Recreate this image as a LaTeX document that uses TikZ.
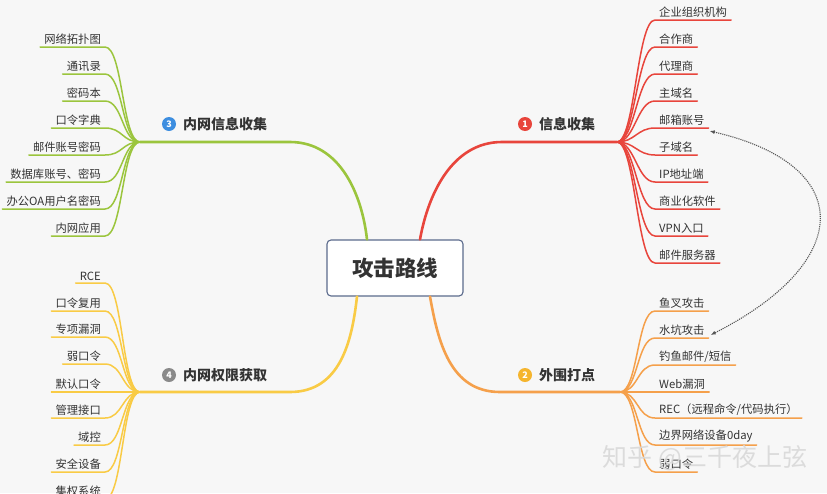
\documentclass[tikz,border=0pt]{standalone}
\usepackage{fontspec}
\setmainfont{Noto Sans CJK SC}
\usetikzlibrary{arrows.meta,positioning,calc}
\definecolor{Paper}{HTML}{F7F7F7}
\definecolor{Ink}{HTML}{333333}
\definecolor{RootEdge}{HTML}{5B6B8C}
\definecolor{RedLine}{HTML}{E8453C}
\definecolor{OrangeLine}{HTML}{F5A04B}
\definecolor{GreenLine}{HTML}{9BC53D}
\definecolor{YellowLine}{HTML}{F9CB45}
\definecolor{BadgeRed}{HTML}{E8453C}
\definecolor{BadgeOrange}{HTML}{F5B52E}
\definecolor{BadgeBlue}{HTML}{3D8EE0}
\definecolor{BadgeGray}{HTML}{8A8A8A}
\definecolor{LinkGray}{HTML}{555555}
\definecolor{Ghost}{HTML}{D9D9D9}
\tikzset{
  every node/.append style={text=Ink},
  leaf/.style={inner xsep=4pt, inner ysep=2.5pt, font=\fontsize{11.3}{13}\selectfont},
  leafr/.style={leaf, anchor=south west},
  leafl/.style={leaf, anchor=south east},
  twig/.style={line width=1.5pt, line cap=round},
  trunk/.style={line width=2.6pt, line cap=round},
  badge/.style={circle, fill=#1, minimum size=14pt, inner sep=0pt,
                text=white, font=\bfseries\fontsize{9}{9}\selectfont},
  topic/.style={anchor=west, inner sep=2pt, font=\bfseries\fontsize{14}{16}\selectfont},
  rootbox/.style={draw=RootEdge, line width=1.1pt, rounded corners=4pt, fill=white,
                  minimum width=136pt, minimum height=56pt,
                  font=\bfseries\fontsize{21.5}{24}\selectfont},
  linkarrow/.style={{Latex[length=1.8mm,width=1.4mm]}-{Latex[length=1.8mm,width=1.4mm]},
                    densely dotted, line width=1.1pt, draw=LinkGray},
  wmtext/.style={font=\fontsize{25}{28}\selectfont, text=Ghost, opacity=0.9},
}
\begin{document}
\begin{tikzpicture}[x=1pt, y=-1pt]
  \fill[Paper] (0,0) rectangle (827,493);
  \useasboundingbox (0,0) rectangle (827,493);

  % centre and hubs
  \node[rootbox] (root) at (395,268) {攻击路线};
  \coordinate (hub1) at (617,142);
  \coordinate (hub2) at (620,392);
  \coordinate (hub3) at (140,142);
  \coordinate (hub4) at (140,392);

  % topics
  \node[badge=BadgeRed] (n1) at (525,124) {1};
  \node[topic] (t1) at (537,124) {信息收集};
  \node[badge=BadgeOrange] (n2) at (525,375) {2};
  \node[topic] (t2) at (537,375) {外围打点};
  \node[badge=BadgeBlue] (n3) at (169,124) {3};
  \node[topic] (t3) at (181,124) {内网信息收集};
  \node[badge=BadgeGray] (n4) at (169,375) {4};
  \node[topic] (t4) at (181,375) {内网权限获取};

  % trunks
  \draw[trunk, RedLine] ($(root.north)+(25,0)$) .. controls +(8,-45) and +(-50,0) .. ($(hub1)+(-115,0)$) -- (hub1);
  \draw[trunk, OrangeLine] ($(root.south)+(35,0)$) .. controls +(8,45) and +(-50,0) .. ($(hub2)+(-120,0)$) -- (hub2);
  \draw[trunk, GreenLine] ($(root.north)+(-28,0)$) .. controls +(-5,-45) and +(50,0) .. ($(hub3)+(150,0)$) -- (hub3);
  \draw[trunk, YellowLine] ($(root.south)+(-38,0)$) .. controls +(-5,45) and +(50,0) .. ($(hub4)+(150,0)$) -- (hub4);

  % 信息收集
  \node[leafr] (r1) at (655,20) {企业组织机构};
  \node[leafr] (r2) at (655,47) {合作商};
  \node[leafr] (r3) at (655,74) {代理商};
  \node[leafr] (r4) at (655,101) {主域名};
  \node[leafr] (r5) at (655,128) {邮箱账号};
  \node[leafr] (r6) at (655,155) {子域名};
  \node[leafr] (r7) at (655,182) {IP地址端};
  \node[leafr] (r8) at (655,209) {商业化软件};
  \node[leafr] (r9) at (655,236) {VPN入口};
  \node[leafr] (r10) at (655,263) {邮件服务器};
  \draw[twig, RedLine] (hub1) .. controls +(18,0) and +(-18,0) .. (r1.south west) -- (r1.south east);
  \draw[twig, RedLine] (hub1) .. controls +(18,0) and +(-18,0) .. (r2.south west) -- (r2.south east);
  \draw[twig, RedLine] (hub1) .. controls +(18,0) and +(-18,0) .. (r3.south west) -- (r3.south east);
  \draw[twig, RedLine] (hub1) .. controls +(18,0) and +(-18,0) .. (r4.south west) -- (r4.south east);
  \draw[twig, RedLine] (hub1) .. controls +(18,0) and +(-18,0) .. (r5.south west) -- (r5.south east);
  \draw[twig, RedLine] (hub1) .. controls +(18,0) and +(-18,0) .. (r6.south west) -- (r6.south east);
  \draw[twig, RedLine] (hub1) .. controls +(18,0) and +(-18,0) .. (r7.south west) -- (r7.south east);
  \draw[twig, RedLine] (hub1) .. controls +(18,0) and +(-18,0) .. (r8.south west) -- (r8.south east);
  \draw[twig, RedLine] (hub1) .. controls +(18,0) and +(-18,0) .. (r9.south west) -- (r9.south east);
  \draw[twig, RedLine] (hub1) .. controls +(18,0) and +(-18,0) .. (r10.south west) -- (r10.south east);

  % 外围打点
  \node[leafr] (o1) at (655,311) {鱼叉攻击};
  \node[leafr] (o2) at (655,338) {水坑攻击};
  \node[leafr] (o3) at (655,365) {钓鱼邮件/短信};
  \node[leafr] (o4) at (655,392) {Web漏洞};
  \node[leafr] (o5) at (655,418) {REC（远程命令/代码执行）};
  \node[leafr] (o6) at (655,445) {边界网络设备0day};
  \node[leafr] (o7) at (655,472) {弱口令};
  \draw[twig, OrangeLine] (hub2) .. controls +(18,0) and +(-18,0) .. (o1.south west) -- (o1.south east);
  \draw[twig, OrangeLine] (hub2) .. controls +(18,0) and +(-18,0) .. (o2.south west) -- (o2.south east);
  \draw[twig, OrangeLine] (hub2) .. controls +(18,0) and +(-18,0) .. (o3.south west) -- (o3.south east);
  \draw[twig, OrangeLine] (hub2) -- (o4.south west) -- (o4.south east);
  \draw[twig, OrangeLine] (hub2) .. controls +(18,0) and +(-18,0) .. (o5.south west) -- (o5.south east);
  \draw[twig, OrangeLine] (hub2) .. controls +(18,0) and +(-18,0) .. (o6.south west) -- (o6.south east);
  \draw[twig, OrangeLine] (hub2) .. controls +(18,0) and +(-18,0) .. (o7.south west) -- (o7.south east);

  % 内网信息收集
  \node[leafl] (g1) at (105,47) {网络拓扑图};
  \node[leafl] (g2) at (105,74) {通讯录};
  \node[leafl] (g3) at (105,101) {密码本};
  \node[leafl] (g4) at (105,128) {口令字典};
  \node[leafl] (g5) at (105,155) {邮件账号密码};
  \node[leafl] (g6) at (105,182) {数据库账号、密码};
  \node[leafl] (g7) at (105,209) {办公OA用户名密码};
  \node[leafl] (g8) at (105,236) {内网应用};
  \draw[twig, GreenLine] (g1.south west) -- (g1.south east) .. controls +(18,0) and +(-18,0) .. (hub3);
  \draw[twig, GreenLine] (g2.south west) -- (g2.south east) .. controls +(18,0) and +(-18,0) .. (hub3);
  \draw[twig, GreenLine] (g3.south west) -- (g3.south east) .. controls +(18,0) and +(-18,0) .. (hub3);
  \draw[twig, GreenLine] (g4.south west) -- (g4.south east) .. controls +(18,0) and +(-18,0) .. (hub3);
  \draw[twig, GreenLine] (g5.south west) -- (g5.south east) .. controls +(18,0) and +(-18,0) .. (hub3);
  \draw[twig, GreenLine] (g6.south west) -- (g6.south east) .. controls +(18,0) and +(-18,0) .. (hub3);
  \draw[twig, GreenLine] (g7.south west) -- (g7.south east) .. controls +(18,0) and +(-18,0) .. (hub3);
  \draw[twig, GreenLine] (g8.south west) -- (g8.south east) .. controls +(18,0) and +(-18,0) .. (hub3);

  % 内网权限获取
  \node[leafl] (y1) at (105,283) {RCE};
  \node[leafl] (y2) at (105,311) {口令复用};
  \node[leafl] (y3) at (105,337) {专项漏洞};
  \node[leafl] (y4) at (105,364) {弱口令};
  \node[leafl] (y5) at (105,392) {默认口令};
  \node[leafl] (y6) at (105,418) {管理接口};
  \node[leafl] (y7) at (105,445) {域控};
  \node[leafl] (y8) at (105,472) {安全设备};
  \node[leafl] (y9) at (105,499) {集权系统};
  \draw[twig, YellowLine] (y1.south west) -- (y1.south east) .. controls +(18,0) and +(-18,0) .. (hub4);
  \draw[twig, YellowLine] (y2.south west) -- (y2.south east) .. controls +(18,0) and +(-18,0) .. (hub4);
  \draw[twig, YellowLine] (y3.south west) -- (y3.south east) .. controls +(18,0) and +(-18,0) .. (hub4);
  \draw[twig, YellowLine] (y4.south west) -- (y4.south east) .. controls +(18,0) and +(-18,0) .. (hub4);
  \draw[twig, YellowLine] (y5.south west) -- (y5.south east) -- (hub4);
  \draw[twig, YellowLine] (y6.south west) -- (y6.south east) .. controls +(18,0) and +(-18,0) .. (hub4);
  \draw[twig, YellowLine] (y7.south west) -- (y7.south east) .. controls +(18,0) and +(-18,0) .. (hub4);
  \draw[twig, YellowLine] (y8.south west) -- (y8.south east) .. controls +(18,0) and +(-18,0) .. (hub4);
  \draw[twig, YellowLine] (y9.south west) -- (y9.south east) .. controls +(18,0) and +(-18,0) .. (hub4);

  % link
  \draw[linkarrow] ($(r5.south east)+(1,3)$) .. controls +(147,34) and +(144,-73) .. ($(o2.south east)+(2,-3)$);

  \node[wmtext] (wm) at (705,458) {知乎 @三千夜上弦};
\end{tikzpicture}
\end{document}
